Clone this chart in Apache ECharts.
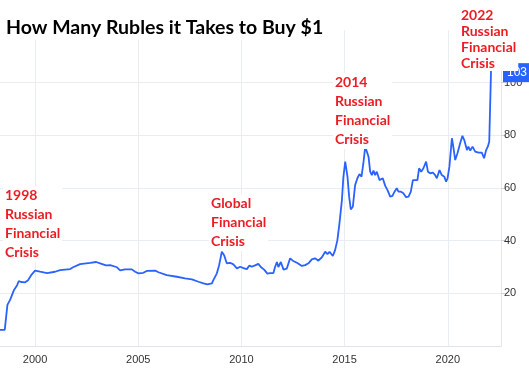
<!DOCTYPE html>
<html>
<head>
<meta charset="utf-8">
<script src="https://cdn.jsdelivr.net/npm/echarts@6/dist/echarts.min.js"></script>
<style>html,body{margin:0;padding:0;background:#fff}#c{width:529px;height:392px}</style>
</head>
<body>
<div id="c"></div>
<script>
const titleText = 'How Many Rubles it Takes to Buy $1';
const years = [1998.30,1998.53,1998.66,1998.79,1998.98,1999.13,1999.21,1999.32,1999.52,1999.66,1999.81,
2000.00,2000.24,2000.58,2000.97,2001.21,2001.70,2001.84,2002.18,2002.67,2002.96,2003.15,2003.44,2003.64,2003.97,
2004.12,2004.36,2004.69,2004.85,2005.01,2005.25,2005.41,2005.82,2005.98,2006.38,2006.87,2007.27,2007.60,2007.92,
2008.16,2008.35,2008.57,2008.64,2008.81,2008.92,2009.05,2009.16,2009.29,2009.45,2009.61,2009.78,2009.94,
2010.10,2010.26,2010.39,2010.50,2010.66,2010.82,2010.94,2011.10,2011.26,2011.39,2011.55,2011.63,2011.72,2011.79,2011.91,
2012.04,2012.20,2012.36,2012.49,2012.69,2012.93,2013.09,2013.25,2013.41,2013.57,2013.73,2013.90,
2014.06,2014.17,2014.27,2014.43,2014.54,2014.65,2014.75,2014.87,2014.94,2015.03,2015.14,2015.22,2015.30,2015.40,
2015.51,2015.62,2015.72,2015.82,2015.91,2016.00,2016.08,2016.16,2016.24,2016.32,2016.40,2016.48,2016.56,2016.69,
2016.85,2016.97,2017.08,2017.21,2017.32,2017.42,2017.53,2017.61,2017.73,2017.85,2017.98,2018.10,2018.21,2018.31,
2018.42,2018.53,2018.61,2018.71,2018.82,2018.95,2019.04,2019.15,2019.28,2019.39,2019.47,2019.60,2019.71,2019.83,
2019.92,2019.99,2020.08,2020.20,2020.28,2020.36,2020.47,2020.60,2020.71,2020.80,2020.93,2021.00,2021.09,2021.20,
2021.33,2021.49,2021.65,2021.76,2021.86,2021.94,2022.01,2022.10];
const rubPerUsd = [6.1,6.1,15.6,17.5,21.3,23.1,24.7,24.3,24.2,25.0,26.9,
28.6,28.2,27.7,28.2,28.8,29.2,29.9,31.1,31.6,31.9,31.4,30.6,30.7,29.9,
28.7,29.1,29.1,28.2,27.6,27.8,28.5,28.6,28.0,26.9,26.3,25.7,25.3,24.4,
23.8,23.4,23.8,25.0,27.6,30.7,35.8,34.5,31.4,31.6,31.0,29.5,30.1,
29.6,29.2,30.6,30.1,30.6,31.2,30.0,29.0,27.5,27.7,27.7,30.0,31.9,30.0,31.9,
29.0,29.4,33.3,32.4,31.6,30.4,30.7,31.4,32.9,33.3,32.4,33.7,
35.8,34.9,35.8,34.2,36.4,40.2,46.5,55.4,64.0,70.0,64.3,56.7,51.9,52.9,
61.1,63.7,65.3,64.3,69.4,75.7,75.7,71.9,66.2,64.9,66.6,64.9,66.2,63.0,
63.7,60.8,59.2,56.7,57.0,58.6,59.9,58.6,58.6,58.0,56.5,56.7,58.6,63.0,
63.0,63.0,67.5,66.2,67.5,70.0,66.2,65.6,65.8,64.9,63.7,66.8,64.9,64.3,
62.4,63.7,68.1,78.9,75.1,70.6,73.2,77.0,79.8,78.2,74.4,75.7,74.2,75.7,
73.8,73.4,73.4,71.3,74.4,75.7,77.6,105.7];
const xTicks = [2000, 2005, 2010, 2015, 2020];
const lastLabel = '103';
const annotations = [
  {text: '1998\nRussian\nFinancial\nCrisis', x: 3, y: 186, lh: 19},
  {text: 'Global\nFinancial\nCrisis', x: 209, y: 194, lh: 19},
  {text: '2014\nRussian\nFinancial\nCrisis', x: 333, y: 73, lh: 19},
  {text: '2022\nRussian\nFinancial\nCrisis', x: 459, y: 7, lh: 16}
];
const xMin = 1998.30, xMax = 2022.58;

const chart = echarts.init(document.getElementById('c'), null, {renderer: 'canvas'});
const data = years.map((y, i) => [y, rubPerUsd[i]]);
const peak = rubPerUsd[rubPerUsd.length - 1];
const gridColor = '#e9ecf1';

chart.setOption({
  animation: false,
  backgroundColor: '#fff',
  title: {
    text: titleText, left: 2, top: 16, padding: [2, 4],
    backgroundColor: '#fff',
    textStyle: {fontFamily: 'Lato', fontWeight: 'bold', fontSize: 19.5, color: '#000'}
  },
  grid: {left: 0, right: 28, top: 30, bottom: 46, containLabel: false},
  xAxis: {
    type: 'value', min: xMin, max: xMax,
    axisLine: {show: true, lineStyle: {color: '#dfe3ea', width: 1}},
    axisTick: {show: false, customValues: xTicks},
    axisLabel: {customValues: xTicks, color: '#333', fontSize: 11,
      fontFamily: 'Liberation Sans', margin: 8, formatter: v => String(v)},
    splitLine: {show: true, lineStyle: {color: gridColor, width: 1}}
  },
  yAxis: {
    type: 'value', position: 'right', min: 0, max: 120, interval: 20,
    axisLine: {show: true, lineStyle: {color: '#e3e6ec', width: 1}},
    axisTick: {show: true, length: 5, lineStyle: {color: '#d0d4dc'}},
    axisLabel: {showMinLabel: false, showMaxLabel: false, color: '#333', fontSize: 11,
      fontFamily: 'Liberation Sans', margin: 3},
    splitLine: {show: true, showMaxLine: false, lineStyle: {color: gridColor, width: 1}}
  },
  series: [{
    type: 'line', data: data, showSymbol: false, smooth: false,
    lineStyle: {color: '#2962ff', width: 1.8},
    markLine: {
      silent: true, symbol: 'none',
      lineStyle: {type: 'dotted', color: '#5b86ff', width: 1},
      label: {position: 'end', formatter: lastLabel, backgroundColor: '#2962ff', color: '#fff',
        fontFamily: 'Liberation Sans', fontSize: 12, padding: [4, 4, 3, 4], distance: 2, offset: [0, 5]},
      data: [[{coord: [2021.71, peak]}, {coord: [xMax, peak]}]]
    }
  }],
  graphic: annotations.map(a => ({
    type: 'text', x: a.x, y: a.y, z: 10,
    style: {text: a.text, fill: '#ec1c24', font: 'bold 14px Lato', lineHeight: a.lh,
      verticalAlign: 'top', align: 'left', backgroundColor: '#fff', padding: [0, 2]}
  }))
});
</script>
</body>
</html>
